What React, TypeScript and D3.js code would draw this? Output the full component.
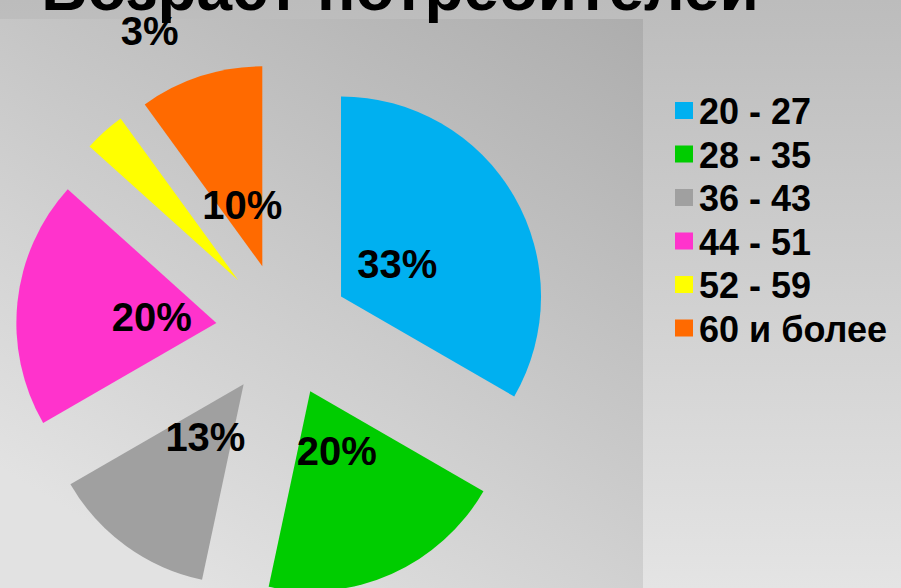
import React from "react";
import * as d3 from "d3";

const categories = ["20 - 27", "28 - 35", "36 - 43", "44 - 51", "52 - 59", "60 и более"];
const counts = [10, 6, 4, 6, 1, 3];
const percentLabels = ["33%", "20%", "13%", "20%", "3%", "10%"];
const colors = ["#00b0f0", "#00cc00", "#a0a0a0", "#ff33cc", "#ffff00", "#ff6a00"];
const title = "Возраст потребителей";

const W = 901;
const H = 588;
const CX = 283;
const CY = 330;
const R = 200;
const EXPLODE = 67;
const LABEL_DIST = 65;
const FONT = "'Liberation Sans', Arial, Helvetica, sans-serif";

export default function App() {
  const pie = d3.pie<number>().sort(null).value((d) => d).startAngle(0).endAngle(2 * Math.PI);
  const arcs = pie(counts);
  const arc = d3.arc<d3.PieArcDatum<number>>().innerRadius(0).outerRadius(R);

  const legendY = d3.scalePoint<string>().domain(categories).range([111, 328.5]);

  return (
    <svg width={W} height={H} style={{ position: "absolute", left: 0, top: 0 }}>
      <defs>
        <linearGradient id="slideBg" x1="0" y1="0" x2="0" y2="1">
          <stop offset="0" stopColor="#bcbcbc" />
          <stop offset="1" stopColor="#e4e4e4" />
        </linearGradient>
        <linearGradient id="plotBg" x1="1" y1="0" x2="0.3" y2="1">
          <stop offset="0" stopColor="#adadad" />
          <stop offset="1" stopColor="#e2e2e2" />
        </linearGradient>
      </defs>
      <rect x={0} y={0} width={W} height={H} fill="url(#slideBg)" />
      <rect x={0} y={19} width={643} height={H - 19} fill="url(#plotBg)" />

      <text
        x={400}
        y={10}
        textAnchor="middle"
        fontFamily={FONT}
        fontWeight="bold"
        fontSize={64}
        fill="#000"
      >
        {title}
      </text>

      {arcs.map((a, i) => {
        const mid = (a.startAngle + a.endAngle) / 2;
        const dx = Math.sin(mid) * EXPLODE;
        const dy = -Math.cos(mid) * EXPLODE;
        return (
          <path
            key={categories[i]}
            d={arc(a) || ""}
            transform={`translate(${CX + dx},${CY + dy})`}
            fill={colors[i]}
          />
        );
      })}

      {arcs.map((a, i) => {
        const mid = (a.startAngle + a.endAngle) / 2;
        let lx: number;
        let ly: number;
        if (counts[i] / d3.sum(counts) < 0.05) {
          // small slice: label placed outside the pie
          const ang = mid + (18 * Math.PI) / 180;
          lx = CX + Math.sin(ang) * 328;
          ly = CY - Math.cos(ang) * 328;
        } else {
          const d = EXPLODE + LABEL_DIST;
          lx = CX + Math.sin(mid) * d;
          ly = CY - Math.cos(mid) * d;
        }
        return (
          <text
            key={"l" + i}
            x={lx}
            y={ly}
            dy="0.36em"
            textAnchor="middle"
            fontFamily={FONT}
            fontWeight="bold"
            fontSize={40}
            fill="#000"
          >
            {percentLabels[i]}
          </text>
        );
      })}

      {categories.map((c, i) => {
        const y = legendY(c) as number;
        return (
          <g key={"lg" + i}>
            <rect x={675} y={y - 9} width={18} height={17} fill={colors[i]} />
            <text
              x={699}
              y={y + 13}
              fontFamily={FONT}
              fontWeight="bold"
              fontSize={36}
              fill="#000"
            >
              {c}
            </text>
          </g>
        );
      })}
    </svg>
  );
}
